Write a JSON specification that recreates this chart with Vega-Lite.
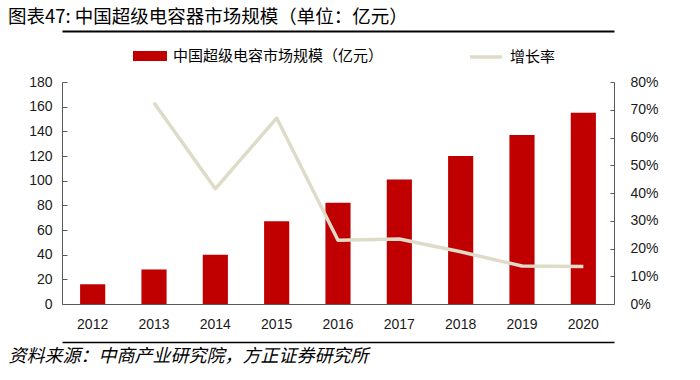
{
  "$schema": "https://vega.github.io/schema/vega-lite/v6.json",
  "width": 552,
  "height": 222,
  "autosize": {"type": "none"},
  "padding": {"left": 62, "top": 82, "right": 86, "bottom": 76},
  "background": "white",
  "title": {
    "text": "图表47: 中国超级电容器市场规模（单位：亿元）",
    "anchor": "start",
    "frame": "group",
    "dx": -54,
    "font": "Noto Sans CJK SC",
    "fontSize": 18.5,
    "fontWeight": "normal",
    "color": "#000000",
    "offset": 5
  },
  "config": {
    "view": {"stroke": null},
    "axis": {
      "labelFont": "Liberation Sans",
      "labelFontSize": 14,
      "labelColor": "#1a1a1a",
      "domainColor": "#595959",
      "tickColor": "#595959",
      "grid": false
    }
  },
  "data": {
    "values": [
      {"year": "2012", "size": 16, "rate": null},
      {"year": "2013", "size": 28, "rate": 0.725},
      {"year": "2014", "size": 40, "rate": 0.415},
      {"year": "2015", "size": 67, "rate": 0.67},
      {"year": "2016", "size": 82, "rate": 0.23},
      {"year": "2017", "size": 101, "rate": 0.234},
      {"year": "2018", "size": 120, "rate": 0.188},
      {"year": "2019", "size": 137, "rate": 0.137},
      {"year": "2020", "size": 155, "rate": 0.135}
    ]
  },
  "layer": [
    {
      "mark": {"type": "bar", "color": "#c00000"},
      "encoding": {
        "x": {
          "field": "year",
          "type": "nominal",
          "scale": {"paddingInner": 0.59, "paddingOuter": 0.295},
          "axis": {
            "orient": "top",
            "offset": 51,
            "title": null,
            "labels": false,
            "ticks": false,
            "domainColor": "#000000",
            "domainWidth": 2
          }
        },
        "y": {
          "field": "size",
          "type": "quantitative",
          "scale": {"domain": [0, 180]},
          "axis": {
            "orient": "left",
            "title": null,
            "values": [0, 20, 40, 60, 80, 100, 120, 140, 160, 180],
            "tickSize": -5,
            "labelPadding": 15,
            "grid": true,
            "gridWidth": 1,
            "zindex": 1,
            "gridColor": {"condition": {"test": "datum.value == 0", "value": "#595959"}, "value": "transparent"}
          }
        },
        "fill": {
          "datum": "中国超级电容市场规模（亿元）",
          "scale": {"range": ["#c00000"]},
          "legend": {
            "orient": "none",
            "legendX": 71,
            "legendY": -43,
            "title": null,
            "symbolType": "M-1,-0.3H1V0.3H-1Z",
            "symbolSize": 1156,
            "symbolStrokeWidth": 0,
            "labelFont": "Noto Sans CJK SC",
            "labelFontSize": 15,
            "labelColor": "#000000",
            "labelOffset": 6,
            "labelLimit": 400
          }
        }
      }
    },
    {
      "mark": {"type": "line", "strokeWidth": 3.5, "strokeJoin": "round"},
      "encoding": {
        "x": {
          "field": "year",
          "type": "nominal",
          "axis": {
            "orient": "bottom",
            "offset": 38,
            "title": "资料来源：中商产业研究院，方正证券研究所",
            "titleFont": "Noto Sans CJK SC",
            "titleFontSize": 18,
            "titleFontStyle": "italic",
            "titleFontWeight": "normal",
            "titleColor": "#000000",
            "titleAnchor": "start",
            "titleAlign": "left",
            "titleBaseline": "middle",
            "titleX": -54,
            "titleY": 14,
            "labelAngle": 0,
            "labelBaseline": "middle",
            "labelPadding": -18,
            "ticks": false,
            "domainColor": "#000000",
            "domainWidth": 1.5
          }
        },
        "y": {
          "field": "rate",
          "type": "quantitative",
          "scale": {"domain": [0, 0.8]},
          "axis": {
            "orient": "right",
            "title": null,
            "format": ".0%",
            "values": [0, 0.1, 0.2, 0.3, 0.4, 0.5, 0.6, 0.7, 0.8],
            "tickSize": -4,
            "labelPadding": 20
          }
        },
        "stroke": {
          "datum": "增长率",
          "scale": {"range": ["#dedbc9"]},
          "legend": {
            "orient": "none",
            "legendX": 406,
            "legendY": -43,
            "title": null,
            "symbolType": "stroke",
            "symbolSize": 1024,
            "symbolStrokeWidth": 3.5,
            "labelFont": "Noto Sans CJK SC",
            "labelFontSize": 15,
            "labelColor": "#000000",
            "labelOffset": 6
          }
        }
      }
    }
  ],
  "resolve": {
    "scale": {"y": "independent", "fill": "independent", "stroke": "independent"},
    "axis": {"x": "independent", "y": "independent"}
  }
}
